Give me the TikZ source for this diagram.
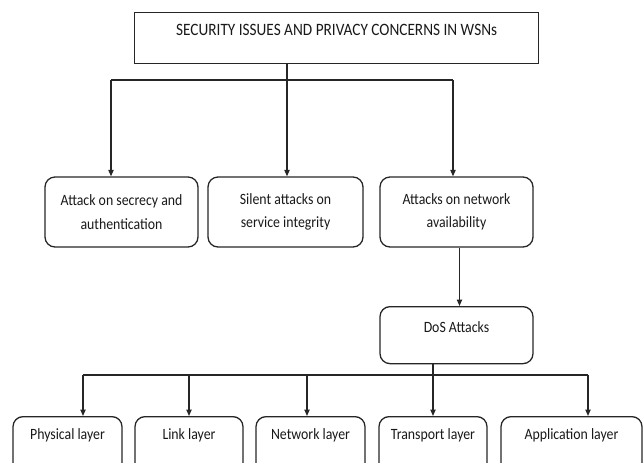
\documentclass[tikz,border=0pt]{standalone}
\usepackage{fontspec}
\setmainfont{Carlito}[FakeStretch=0.88]
\usetikzlibrary{arrows.meta}

\begin{document}
\begin{tikzpicture}[x=0.3mm,y=-0.3mm,
  box/.style={draw=black!85,line width=1.1pt,inner sep=0pt,align=center,
    text=black!90,font=\fontsize{13.4}{20}\selectfont},
  rbox/.style={box,rounded corners=3mm},
  line/.style={draw=black!85,line width=1.1pt},
  arr/.style={line,-{Triangle[width=4.5pt,length=5.5pt]}}]
\useasboundingbox (0,0) rectangle (643,463);
\clip (0,0) rectangle (643,463);
% TOP BOX
\node [box,anchor=north west,minimum width=121.2mm,text height=6.75mm,text depth=8.55mm,font=\fontsize{14.8}{20}\selectfont] (top) at (134,12) {SECURITY ISSUES AND PRIVACY CONCERNS IN WSNs};
% THREE ATTACK CLASSES
\node [rbox,minimum width=45.9mm,minimum height=21mm] (secrecy) at (121.5,212) {Attack on secrecy and\\authentication};
\node [rbox,minimum width=46.5mm,minimum height=21mm] (silent) at (285.5,212) {Silent attacks on\\service integrity};
\node [rbox,minimum width=45.9mm,minimum height=21mm] (avail) at (456.5,212) {Attacks on network\\availability};
% DOS BOX
\node [rbox,anchor=north,minimum width=45.9mm,text height=7.65mm,text depth=9.45mm] (dos) at (456.5,306) {DoS Attacks};
% LAYERS
\node [rbox,anchor=north,minimum width=32.7mm,text height=6.75mm,text depth=15mm] (phys) at (67.5,416) {Physical layer};
\node [rbox,anchor=north,minimum width=32.4mm,text height=6.75mm,text depth=15mm] (link) at (189,416) {Link layer};
\node [rbox,anchor=north,minimum width=32.7mm,text height=6.75mm,text depth=15mm] (net) at (310.5,416) {Network layer};
\node [rbox,anchor=north,minimum width=32.4mm,text height=6.75mm,text depth=15mm] (trans) at (433,416) {Transport layer};
\node [rbox,anchor=north,minimum width=42.3mm,text height=6.75mm,text depth=15mm] (app) at (571.5,416) {Application layer};
% TOP SPLIT
\coordinate (hub) at (287,80);
\draw [line] (top.south -| hub) -- (hub);
\draw [line] ([xshift=-3.15mm]secrecy.north |- hub) -- ([xshift=-1.05mm]avail.north |- hub);
\draw [arr] ([xshift=-3.15mm]secrecy.north |- hub) -- ([xshift=-3.15mm]secrecy.north);
\draw [arr] (hub) -- (silent.north -| hub);
\draw [arr] ([xshift=-1.05mm]avail.north |- hub) -- ([xshift=-1.05mm]avail.north);
% AVAILABILITY TO DOS
\draw [arr] ([xshift=0.9mm]avail.south) -- ([xshift=0.9mm]dos.north);
% DOS SPLIT
\coordinate (hubb) at (433,375);
\draw [line] (dos.south -| hubb) -- (hubb);
\draw [line] ([xshift=4.65mm]phys.north |- hubb) -- ([xshift=4.95mm]app.north |- hubb);
\draw [arr] ([xshift=4.65mm]phys.north |- hubb) -- ([xshift=4.65mm]phys.north);
\draw [arr] (link.north |- hubb) -- (link.north);
\draw [arr] ([xshift=-1.05mm]net.north |- hubb) -- ([xshift=-1.05mm]net.north);
\draw [arr] (hubb) -- (trans.north);
\draw [arr] ([xshift=4.95mm]app.north |- hubb) -- ([xshift=4.95mm]app.north);
\end{tikzpicture}
\end{document}
